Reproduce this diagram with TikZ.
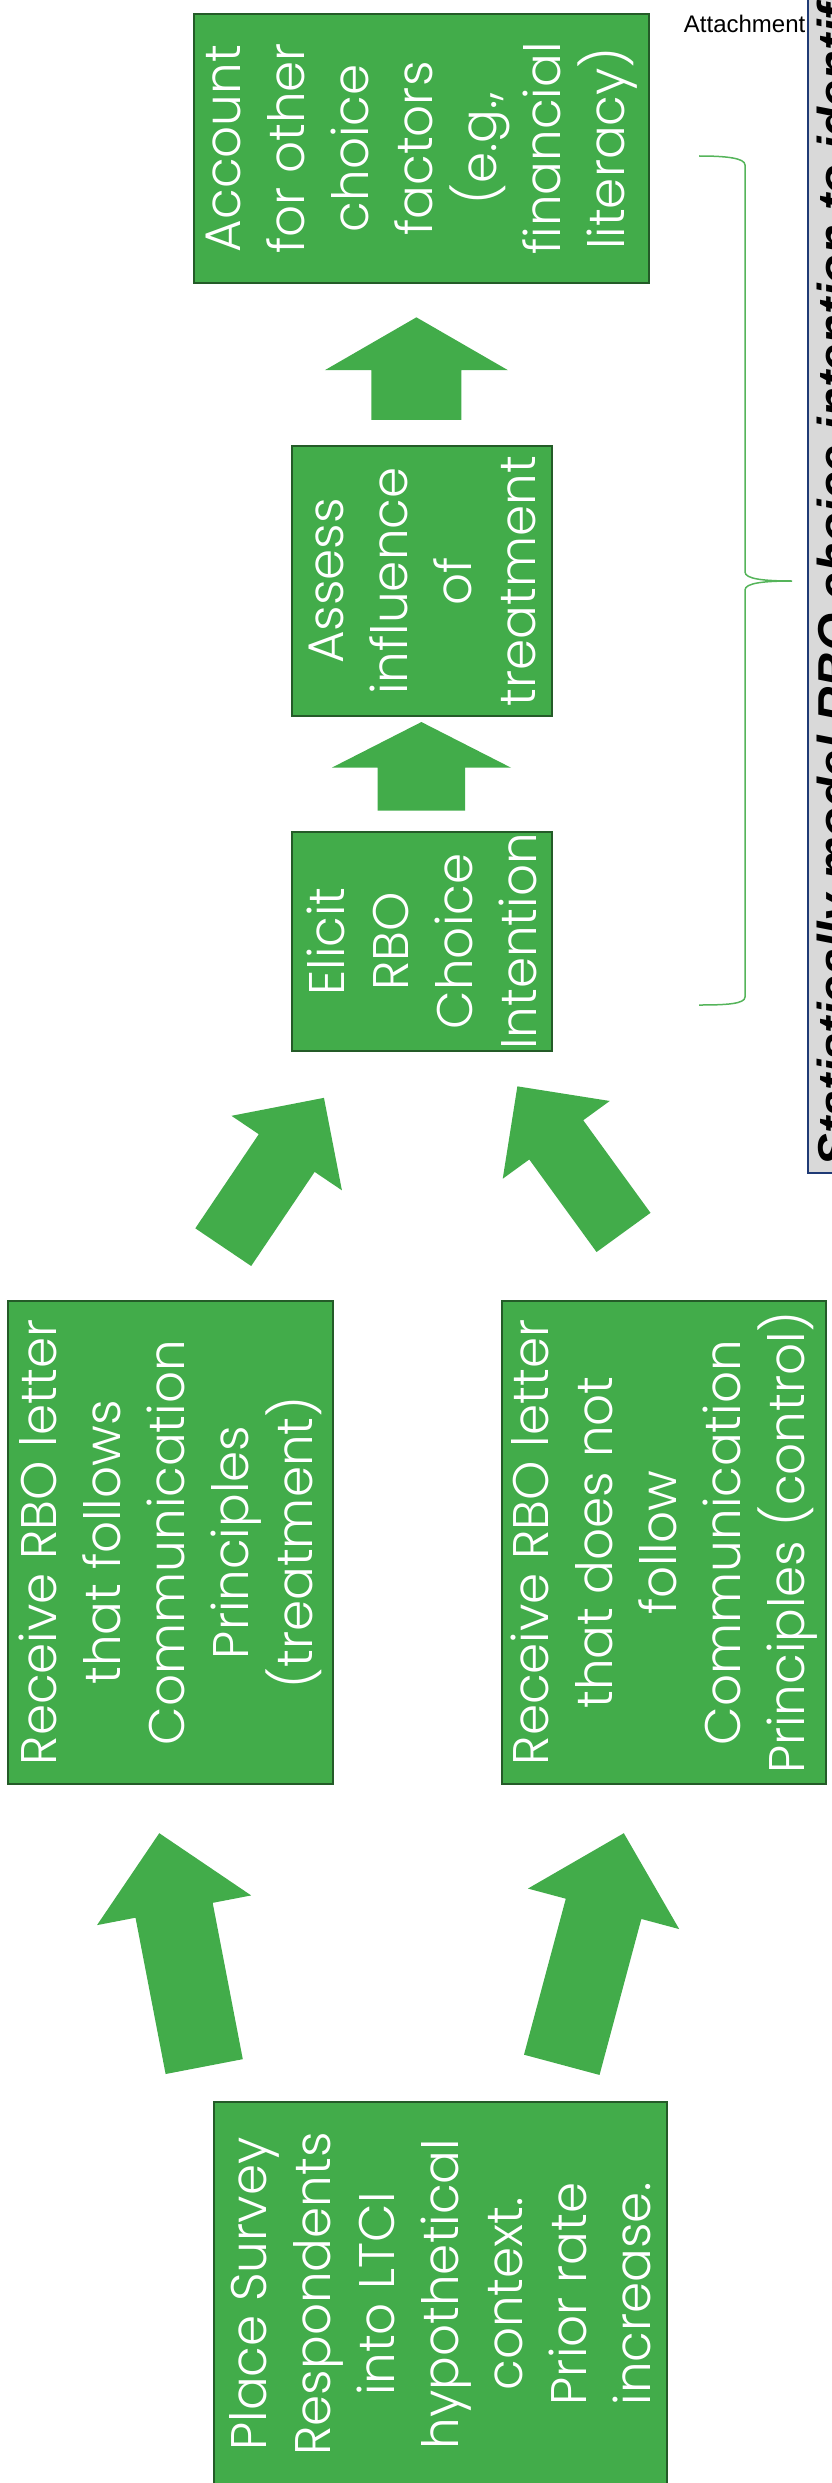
\documentclass[tikz,border=0pt]{standalone}
\usepackage{fontspec}
\setmainfont{Liberation Sans}
\newfontfamily\boxfont{Poppins Light}
\usepackage{tikz}
\usepackage{xcolor}
\usetikzlibrary{shapes.arrows}
\definecolor{boxgreen}{HTML}{42AC4A}
\definecolor{boxedge}{HTML}{245B28}
\definecolor{bracegreen}{HTML}{55B45A}
\definecolor{notegray}{HTML}{D9D9D9}
\definecolor{notenavy}{HTML}{1F3A75}
\tikzset{
  card/.style={rotate=90,draw=boxedge,fill=boxgreen,line width=2pt,
               text=white,align=center,inner sep=0pt,
               font=\boxfont\fontsize{50}{64}\selectfont},
  blockarrow/.style={single arrow,fill=boxgreen,draw=none,inner sep=0pt,
                     text depth=0pt,anchor=tip,single arrow tip angle=90},
  curlybrace/.style={draw=bracegreen,line width=1.5pt},
  notebox/.style={draw=notenavy,fill=notegray,line width=2pt}
}

\begin{document}
\begin{tikzpicture}[x=1pt,y=-1pt]
    \useasboundingbox (0,0) rectangle (832,2483);

    \node[card,minimum width=269pt,minimum height=455pt] (acct) at (421.5,148.5)
      {Account\\for other\\choice\\factors\\(e.g.,\\financial\\literacy)};
    \node[card,minimum width=270pt,minimum height=260pt] (assess) at (422,581)
      {Assess\\influence\\of\\treatment};
    \node[card,minimum width=219pt,minimum height=260pt] (elicit) at (422,941.5)
      {Elicit\\RBO\\Choice\\Intention};

    \node[card,minimum width=483pt,minimum height=325pt] (treat) at (170.5,1542.5)
      {Receive RBO letter\\that follows\\Communication\\Principles\\(treatment)};
    \node[card,minimum width=483pt,minimum height=324.5pt] (ctrl) at (664,1542.5)
      {Receive RBO letter\\that does not\\follow\\Communication\\Principles (control)};

    \node[card,minimum width=384pt,minimum height=453pt] (place) at (440.5,2294)
      {Place Survey\\Respondents\\into LTCI\\hypothetical\\context.\\Prior rate\\increase.};

    \node[blockarrow,rotate=90,minimum height=102.5pt,text height=89.6pt,
          single arrow head extend=46.5pt,single arrow tip angle=120] (up1) at (416.4,317.1) {};
    \node[blockarrow,rotate=90,minimum height=88.6pt,text height=87pt,
          single arrow head extend=45.9pt,single arrow tip angle=126] (up2) at (421.4,721.8) {};

    \node[blockarrow,rotate=56,minimum height=180.1pt,text height=67pt,
          single arrow head extend=32.9pt] (diagl) at (324.1,1097.6) {};
    \node[blockarrow,rotate=126,minimum height=180.6pt,text height=66.3pt,
          single arrow head extend=32.8pt] (diagr) at (517.2,1086.1) {};

    \node[blockarrow,rotate=100.9,minimum height=237.7pt,text height=78.2pt,
          single arrow head extend=39.2pt] (lowl) at (159.2,1832.9) {};
    \node[blockarrow,rotate=75,minimum height=239.8pt,text height=77.8pt,
          single arrow head extend=39.2pt] (lowr) at (623.9,1832.9) {};

    \draw[curlybrace] (699,156) .. controls (726,156) and (745,158) .. (745,165)
      -- (745,572) .. controls (745,579) and (764,581) .. (792,581)
      .. controls (764,581) and (745,583) .. (745,590)
      -- (745,997) .. controls (745,1004) and (726,1005) .. (699,1005);

    \node[anchor=base west,inner sep=0pt,font=\fontsize{24}{29}\selectfont] (attach)
      at (683.7,32.3) {Attachment};
    \draw[notebox] (808,-10) rectangle (900,1172.5);
    \node[rotate=90,anchor=base west,inner sep=0pt,
          font=\bfseries\itshape\fontsize{49}{59}\selectfont] (stat) at (852,1166.7)
      {Statistically model RBO choice intention to identif};
\end{tikzpicture}
\end{document}
